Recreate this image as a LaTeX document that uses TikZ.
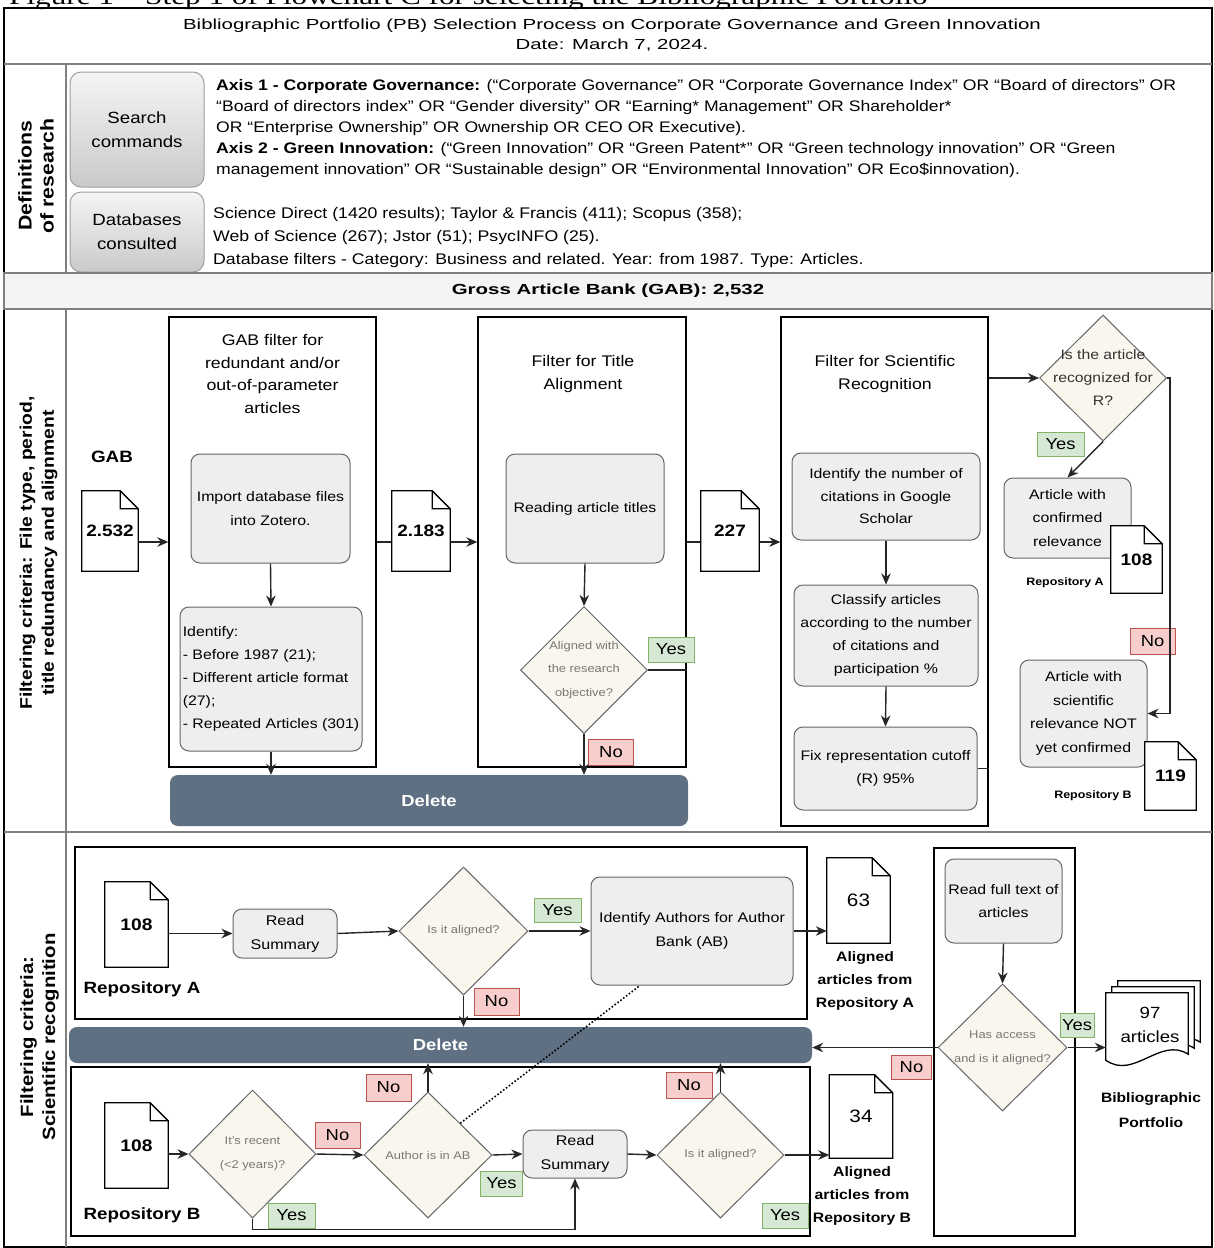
\documentclass[tikz,border=0pt]{standalone}
\usepackage{fontspec}
\setmainfont{Liberation Sans}[FakeStretch=1.15]
\newfontfamily\headfont{Liberation Sans}[FakeStretch=1.4]
\newfontfamily\capfont{Liberation Serif}[FakeStretch=1.3]
\usetikzlibrary{arrows.meta}
\usetikzlibrary{positioning}
\usetikzlibrary{shapes.geometric}
\newcommand{\fsz}[2]{\fontsize{#1}{#2}\selectfont}
\definecolor{boxgray}{HTML}{EEEEEE}
\definecolor{boxline}{HTML}{666666}
\definecolor{diamfill}{HTML}{F9F7ED}
\definecolor{slate}{HTML}{5F7083}
\definecolor{yesfill}{HTML}{D5E8D4}
\definecolor{yesline}{HTML}{82B366}
\definecolor{nofill}{HTML}{F8CECC}
\definecolor{noline}{HTML}{B85450}
\definecolor{barfill}{HTML}{F4F4F4}
\definecolor{sectline}{HTML}{7F7F7F}
\definecolor{askgray}{HTML}{777777}

\begin{document}
\begin{tikzpicture}[x=1pt,y=-1pt,
  flow/.style={draw=black!85, line width=1.4pt, -{Stealth[length=11pt,width=9.5pt]}},
  link/.style={draw=black!85, line width=1.4pt},
  frame/.style={draw=black, line width=1.3pt, inner sep=0pt},
  procbox/.style={draw=boxline, fill=boxgray, line width=1pt, rounded corners=9pt, align=center, inner sep=2pt, font=\fsz{13.8}{23.5}},
  cmdbox/.style={draw=gray!75, line width=1pt, rounded corners=11pt, top color=gray!8, bottom color=gray!42, align=center, minimum width=134pt, font=\fsz{16.2}{24}},
  decision/.style={diamond, draw=boxline, fill=diamfill, line width=1pt, align=center, inner sep=-16pt, text=askgray, font=\fsz{11.2}{23.5}},
  docfile/.style={fill=white, inner sep=0pt, font=\bfseries\fsz{16.5}{20}},
  yeslbl/.style={draw=yesline, fill=yesfill, line width=0.9pt, inner sep=0pt, minimum width=46pt, minimum height=25pt, font=\fsz{16}{18}},
  nolbl/.style={draw=noline, fill=nofill, line width=0.9pt, inner sep=0pt, minimum width=45pt, minimum height=26pt, font=\fsz{16}{18}},
  delbar/.style={fill=slate, rounded corners=8pt, text=white, font=\bfseries\fsz{16}{18}},
  sidelbl/.style={rotate=90, align=center, font=\bfseries\fsz{#1}{22}},
  boldlbl/.style={align=center, font=\bfseries\fsz{13.7}{23}}]

\useasboundingbox (0,0) rectangle (1214,1248);
\fill[white] (0,0) rectangle (1214,1248);
\clip (0,0) rectangle (1214,1248);

\node[anchor=base west, inner sep=0pt, font=\capfont\fsz{24}{26}] (caption) at (9,4.5) {Figure 1 – Step 1 of Flowchart C for selecting the Bibliographic Portfolio};

\draw[black, line width=1.3pt] (4,8) rectangle (1212,1247);
\draw[sectline, line width=1.6pt] (4,64) -- (1212,64);
\draw[sectline, line width=1.6pt] (4,832) -- (1212,832);
\draw[sectline, line width=1.2pt] (66,64) -- (66,273);
\draw[sectline, line width=1.2pt] (66,309) -- (66,832);
\draw[sectline, line width=1.2pt] (66,832) -- (66,1247);

\node[align=center, font=\headfont\fsz{14.6}{19.5}] (title) at (612,35) {Bibliographic Portfolio (PB) Selection Process on Corporate Governance and Green Innovation\\Date: March 7, 2024.};

\node[sidelbl=18.5] (deflbl) at (36,176) {Definitions\\of research};
\node[sidelbl=16.8] (filtlbl) at (38.5,553) {Filtering criteria: File type, period,\\title redundancy and alignment};
\node[sidelbl=17.7] (scilbl) at (39.5,1037) {Filtering criteria:\\Scientific recognition};

\node[cmdbox, minimum height=115pt] (search) at (137,129.5) {Search\\commands};
\node[cmdbox, minimum height=80pt] (dbases) at (137,232) {Databases\\consulted};
\node[anchor=west, align=left, inner sep=0pt, font=\fsz{15.3}{21}] (axes) at (216,129) {\textbf{Axis 1 - Corporate Governance:} (“Corporate Governance” OR “Corporate Governance Index” OR “Board of directors” OR\\“Board of directors index” OR “Gender diversity” OR “Earning* Management” OR Shareholder*\\OR “Enterprise Ownership” OR Ownership OR CEO OR Executive).\\\textbf{Axis 2 - Green Innovation:} (“Green Innovation” OR “Green Patent*” OR “Green technology innovation” OR “Green\\management innovation” OR “Sustainable design” OR “Environmental Innovation” OR Eco\$innovation).};
\node[anchor=west, align=left, inner sep=0pt, font=\fsz{15.4}{23}] (dbtext) at (213,238) {Science Direct (1420 results); Taylor \& Francis (411); Scopus (358);\\Web of Science (267); Jstor (51); PsycINFO (25).\\Database filters - Category: Business and related. Year: from 1987. Type: Articles.};

\node[draw=sectline, fill=barfill, line width=1.4pt, minimum width=1208pt, minimum height=36pt, font=\headfont\bfseries\fsz{14.6}{18}] (gab) at (608,291) {Gross Article Bank (GAB): 2,532};

\node[frame, minimum width=207pt, minimum height=450pt] (box1) at (272.5,542) {};
\node[frame, minimum width=208pt, minimum height=450pt] (box2) at (582,542) {};
\node[frame, minimum width=207pt, minimum height=509pt] (box3) at (884.5,571.5) {};
\node[align=center, font=\fsz{15.4}{22.7}] (t1) at (272.5,374) {GAB filter for\\redundant and/or\\out-of-parameter\\articles};
\node[align=center, font=\fsz{15.4}{23}] (t2) at (583,374) {Filter for Title\\Alignment};
\node[align=center, font=\fsz{15.4}{23}] (t3) at (885,374) {Filter for Scientific\\Recognition};

\node[font=\bfseries\fsz{16.4}{20}] (gablbl) at (112,457) {GAB};
\node[docfile, minimum width=56pt, minimum height=80pt] (gabdoc) at (110,531) {2.532};
\node[procbox, minimum width=159pt, minimum height=109pt] (impbox) at (270.5,508.5) {Import database files\\into Zotero.};
\node[procbox, align=left, minimum width=182pt, minimum height=144pt, font=\fsz{13.8}{22.8}] (idbox) at (271,679) {Identify:\\- Before 1987 (21);\\- Different article format\\(27);\\- Repeated Articles (301)};
\node[docfile, minimum width=58pt, minimum height=80pt] (cutdoc) at (421,531) {2.183};
\node[procbox, minimum width=158pt, minimum height=109pt] (readbox) at (585,508.5) {Reading article titles};
\node[decision, minimum width=127pt, minimum height=127pt] (alnd) at (584,670) {Aligned with\\the research\\objective?};
\node[yeslbl] (yes1) at (671,649.5) {Yes};
\node[nolbl] (no1) at (611,752.5) {No};
\node[delbar, minimum width=518pt, minimum height=51pt] (del1) at (429,800.5) {Delete};
\node[docfile, minimum width=58pt, minimum height=80pt] (titdoc) at (730,531) {227};
\node[procbox, minimum width=188pt, minimum height=87pt, font=\fsz{13.8}{22.5}] (citebox) at (886,496.5) {Identify the number of\\citations in Google\\Scholar};
\node[procbox, minimum width=184pt, minimum height=101pt, font=\fsz{13.8}{23}] (classbox) at (886,635.5) {Classify articles\\according to the number\\of citations and\\participation \%};
\node[procbox, minimum width=183pt, minimum height=83pt] (cutbox) at (885.5,768.5) {Fix representation cutoff\\(R) 95\%};
\node[decision, minimum width=127pt, minimum height=126pt, text=black!80, font=\fsz{13.7}{23}] (rdiam) at (1103,378) {Is the article\\recognized for\\R?};
\node[yeslbl, minimum width=47pt, minimum height=24pt] (yesR) at (1060.5,444) {Yes};
\node[procbox, minimum width=127pt, minimum height=80pt] (artA) at (1067.5,518) {Article with\\confirmed\\relevance};
\node[docfile, minimum width=51pt, minimum height=67pt] (repAdoc) at (1136.5,559.5) {108};
\node[font=\bfseries\fsz{10.8}{13}] (repAlbl) at (1065,583) {Repository A};
\node[nolbl] (noR) at (1152.5,641) {No};
\node[procbox, minimum width=127pt, minimum height=107pt] (artB) at (1083.5,713.5) {Article with\\scientific\\relevance NOT\\yet confirmed};
\node[docfile, minimum width=51pt, minimum height=68pt] (repBdoc) at (1170.5,776) {119};
\node[font=\bfseries\fsz{10.8}{13}] (repBlbl) at (1093,796) {Repository B};

\draw[flow] (gabdoc.east |- box1.west) -- (box1.west);
\draw[flow] (impbox.south) -- (idbox.north);
\draw[flow] (idbox.south) -- (idbox.south |- del1.north);
\draw[link] (box1.east) -- (box1.east -| cutdoc.west);
\draw[flow] (cutdoc.east |- box1.east) -- (box2.west);
\draw[flow] (readbox.south) -- (alnd.north);
\draw[link] (alnd.east) -- (alnd.east -| box2.east);
\draw[flow] (alnd.south) -- (alnd.south |- del1.north);
\draw[link] (box2.east) -- (box2.east -| titdoc.west);
\draw[flow] (titdoc.east |- box2.east) -- (box2.east -| box3.west);
\draw[flow] (citebox.south) -- (classbox.north);
\draw[flow] (classbox.south) -- (cutbox.north);
\draw[link] (cutbox.east) -- (cutbox.east -| box3.east);
\draw[flow] (box3.east |- rdiam.west) -- (rdiam.west);
\draw[flow] (rdiam.south) -- (artA.north);
\draw[flow] (rdiam.east) -- ++(3,0) |- (artB.east);

\node[frame, minimum width=732pt, minimum height=172pt] (frameA) at (441,933) {};
\node[frame, minimum width=739pt, minimum height=169pt] (frameB) at (440.5,1151.5) {};
\node[frame, minimum width=141pt, minimum height=388pt] (frameC) at (1004.5,1042) {};

\node[docfile, minimum width=63pt, minimum height=85pt, font=\bfseries\fsz{16.7}{20}] (inAdoc) at (136.5,924.5) {108};
\node[font=\bfseries\fsz{16.3}{20}] (repAtxt) at (142,989) {Repository A};
\node[procbox, minimum width=104pt, minimum height=49pt, font=\fsz{14}{24}] (readA) at (285,933.5) {Read\\Summary};
\node[decision, minimum width=129pt, minimum height=128pt] (alA) at (463.5,931) {Is it aligned?};
\node[yeslbl, minimum width=47pt, minimum height=24pt] (yesA) at (557.5,910) {Yes};
\node[nolbl, minimum height=27pt] (noA) at (496.5,1001.5) {No};
\node[procbox, minimum width=202pt, minimum height=108pt, font=\fsz{13.9}{24}] (identA) at (692,931) {Identify Authors for Author\\Bank (AB)};
\node[docfile, minimum width=63pt, minimum height=85pt, font=\fsz{18}{20}] (outAdoc) at (858.5,900.5) {63};
\node[boldlbl] (outAlbl) at (865,981) {Aligned\\articles from\\Repository A};
\node[delbar, minimum width=743pt, minimum height=36pt] (del2) at (440.5,1045) {Delete};

\node[docfile, minimum width=63pt, minimum height=85pt, font=\bfseries\fsz{16.7}{20}] (inBdoc) at (136.5,1145.5) {108};
\node[font=\bfseries\fsz{16.3}{20}] (repBtxt) at (142,1215) {Repository B};
\node[decision, minimum width=127pt, minimum height=128pt, font=\fsz{11.2}{24}] (recent) at (252.5,1154) {It's recent\\(<2 years)?};
\node[nolbl] (noRec) at (337.5,1135) {No};
\node[yeslbl, minimum width=47pt] (yesRec) at (291.5,1215.5) {Yes};
\node[decision, minimum width=128pt, minimum height=126pt] (author) at (428,1155) {Author is in AB};
\node[nolbl, minimum height=27pt] (noAut) at (388.5,1087.5) {No};
\node[yeslbl, minimum width=42pt] (yesAut) at (501.5,1183.5) {Yes};
\node[procbox, minimum width=104pt, minimum height=48pt, font=\fsz{14}{24}] (readB) at (575,1154) {Read\\Summary};
\node[decision, minimum width=127pt, minimum height=126pt] (alB) at (720.5,1155) {Is it aligned?};
\node[nolbl, minimum width=46pt] (noAlB) at (689,1085) {No};
\node[yeslbl] (yesAlB) at (785,1215.5) {Yes};
\node[docfile, minimum width=63pt, minimum height=83pt, font=\fsz{18}{20}] (outBdoc) at (861,1116.5) {34};
\node[boldlbl] (outBlbl) at (862,1196) {Aligned\\articles from\\Repository B};

\node[procbox, minimum width=117pt, minimum height=84pt, font=\fsz{13.8}{23}] (fulltext) at (1003.5,901) {Read full text of\\articles};
\node[decision, minimum width=129pt, minimum height=127pt, font=\fsz{11.2}{24}] (hasacc) at (1002.5,1047.5) {Has access\\and is it aligned?};
\node[nolbl, minimum width=40pt, minimum height=24pt] (noHas) at (911.5,1067) {No};
\node[yeslbl, minimum width=34pt, minimum height=24pt] (yesHas) at (1077,1025) {Yes};
\node[inner sep=0pt, minimum width=82pt, minimum height=73pt] (bp) at (1147,1029.5) {};
\foreach \o in {12,6,0}
  \draw[fill=white, line width=1.3pt] ([xshift=\o,yshift=\o]bp.north west) -- ([xshift=\o,yshift=\o]bp.north east) -- ([xshift=\o,yshift=\o+12]bp.south east) .. controls ([xshift=\o-28,yshift=\o+30]bp.south east) and ([xshift=\o+28,yshift=\o-14]bp.south west) .. ([xshift=\o,yshift=\o+6]bp.south west) -- cycle;
\node[align=center, font=\fsz{16.2}{24}] (bptext) at (1150,1025) {97\\articles};
\node[align=center, font=\bfseries\fsz{13.6}{25}] (bplbl) at (1151,1110) {Bibliographic\\Portfolio};

\foreach \d in {gabdoc,cutdoc,titdoc,repAdoc,repBdoc,inAdoc,inBdoc,outAdoc,outBdoc}
  \draw[line width=1.3pt] (\d.south west) -- (\d.north west) -- ([xshift=-18pt]\d.north east) -- ([yshift=-18pt]\d.north east) -- (\d.south east) -- cycle ([xshift=-18pt]\d.north east) |- ([yshift=-18pt]\d.north east);

\draw[flow] (inAdoc.east |- readA.west) -- (readA.west);
\draw[flow] (readA.east) -- (alA.west);
\draw[flow] (alA.east) -- (identA.west);
\draw[flow] (alA.south) -- (alA.south |- del2.north);
\draw[flow] (identA.east) -- (identA.east -| outAdoc.west);
\draw[flow] (inBdoc.east |- recent.west) -- (recent.west);
\draw[flow] (recent.east) -- (author.west);
\draw[flow] (author.north) -- (author.north |- del2.south);
\draw[flow] (author.east) -- (readB.west);
\draw[flow] (recent.south) -- ++(0,11) -| (readB.south);
\draw[flow] (readB.east) -- (alB.west);
\draw[flow] (alB.north) -- (alB.north |- del2.south);
\draw[flow] (alB.east) -- (alB.east -| outBdoc.west);
\draw[dotted, line width=1.6pt] (author.north east) -- ([xshift=-52pt]identA.south);
\draw[flow] (fulltext.south) -- (hasacc.north);
\draw[flow] (hasacc.west) -- (hasacc.west -| del2.east);
\draw[flow] (hasacc.east) -- (hasacc.east -| bp.west);
\end{tikzpicture}
\end{document}
